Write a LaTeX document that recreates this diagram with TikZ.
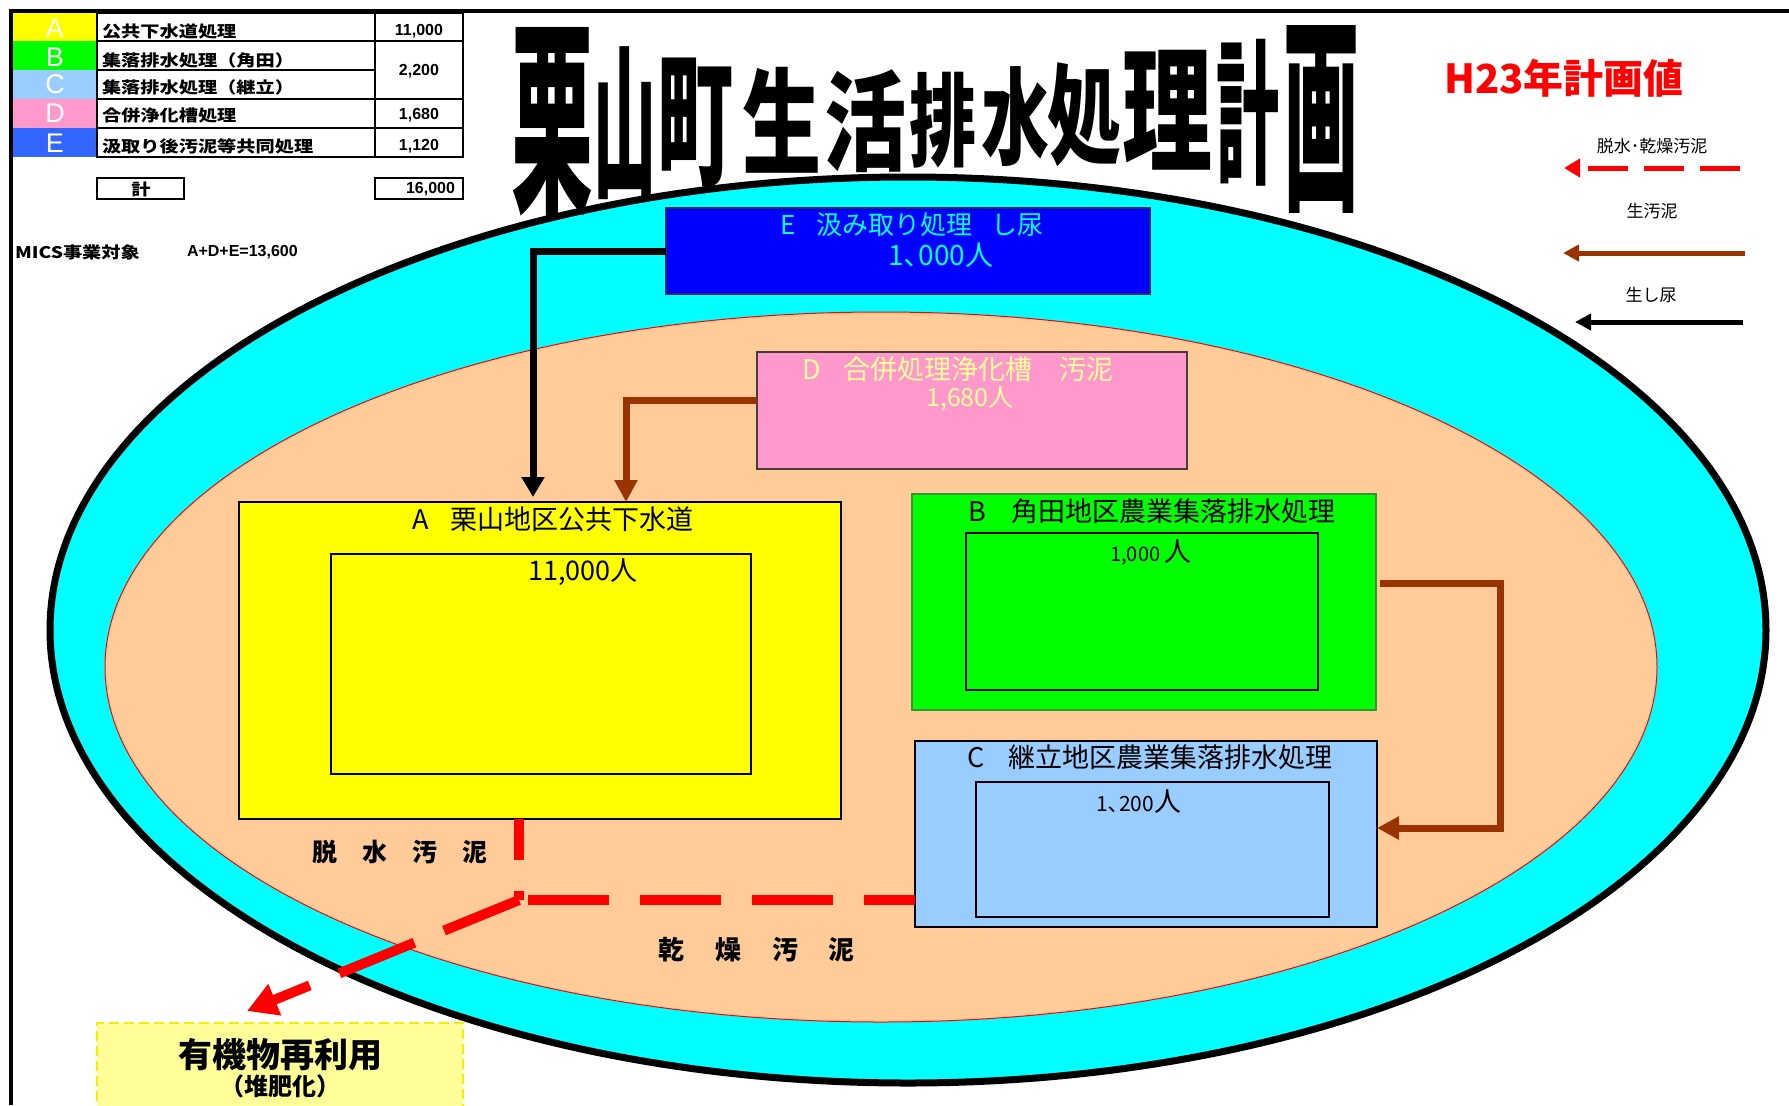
\documentclass[tikz,border=0pt]{standalone}
\usepackage{fontspec}
\usepackage{graphicx}
\usetikzlibrary{arrows.meta,calc}
\setmainfont{Noto Sans CJK JP}
\newfontfamily\jp{Noto Sans CJK JP}
\newfontfamily\tabjp{Noto Sans CJK JP}[FakeStretch=1.2]
\newfontfamily\lat{Liberation Sans}
\newcommand\setfs[1]{\fontsize{#1}{#1}\selectfont}
\definecolor{cy}{HTML}{00FFFF}
\definecolor{peach}{HTML}{FFCC99}
\definecolor{yelA}{HTML}{FFFF00}
\definecolor{grnB}{HTML}{00FF00}
\definecolor{bluC}{HTML}{99CCFF}
\definecolor{pnkD}{HTML}{FF99CC}
\definecolor{bluE}{HTML}{0000FF}
\definecolor{tabE}{HTML}{3366FF}
\definecolor{brn}{HTML}{993300}
\definecolor{lyel}{HTML}{FFFF99}
\definecolor{dyel}{HTML}{F0F000}
\definecolor{dtxt}{HTML}{FFFF99}
\tikzset{
  regionbox/.style={draw, anchor=north west, line width=0.6pt},
  brownarrow/.style={draw=brn, line width=3.5pt, -{Triangle[length=11pt,width=11pt]}},
  blackarrow/.style={draw=black, line width=3.5pt, -{Triangle[length=10pt,width=11pt]}},
  redflow/.style={draw=red, line width=5pt},
  tabtext/.style={font=\tabjp\bfseries\setfs{8}, anchor=west},
  tabnum/.style={font=\lat\bfseries\setfs{8}},
  tabletter/.style={font=\lat\setfs{13.5}, text=white},
  boxtext/.style={font=\jp\setfs{13.5}},
  legendtext/.style={font=\jp\setfs{8.5}},
  titlechar/.style={font=\jp\bfseries}
}
\begin{document}
\begin{tikzpicture}[x=0.5pt,y=-0.5pt, every node/.style={inner sep=0pt,outer sep=0pt}]
\useasboundingbox (0,0) rectangle (1789,1105);
\fill[white] (0,0) rectangle (1789,1105);

% ellipses
\draw[line width=3.5pt, fill=cy] (908,630) ellipse [x radius=429pt, y radius=226.5pt];
\draw[line width=0.5pt, draw=red, fill=peach] (881,667) ellipse [x radius=388pt, y radius=177.5pt];

% page border
\draw[line width=2pt] (11,1105) -- (11,11) -- (1789,11);

% table
\fill[yelA] (13,13) rectangle (97,41);
\fill[grnB] (13,41) rectangle (97,70);
\fill[bluC] (13,70) rectangle (97,99);
\fill[pnkD] (13,99) rectangle (97,128);
\fill[tabE] (13,128) rectangle (97,157);
\draw[line width=0.8pt] (97,13) rectangle (463,157);
\draw[line width=0.8pt] (97,41) -- (463,41) (97,70) -- (375,70) (97,99) -- (463,99) (97,128) -- (463,128) (375,13) -- (375,157);
\node[tabletter] (la) at (55,28) {A};
\node[tabletter] (lb) at (55,57) {B};
\node[tabletter] (lc) at (55,84) {C};
\node[tabletter] (ld) at (55,113) {D};
\node[tabletter] (le) at (55,143) {E};
\node[tabtext] (ta) at (102,31) {公共下水道処理};
\node[tabtext] (tb) at (102,60) {集落排水処理（角田）};
\node[tabtext] (tc) at (102,87) {集落排水処理（継立）};
\node[tabtext] (td) at (102,115) {合併浄化槽処理};
\node[tabtext] (te) at (102,146) {汲取り後汚泥等共同処理};
\node[tabnum] (na) at (419,31) {11,000};
\node[tabnum] (nb) at (419,71) {2,200};
\node[tabnum] (nd) at (419,115) {1,680};
\node[tabnum] (ne) at (419,146) {1,120};
\draw[line width=0.8pt] (97,178) rectangle (184,199);
\draw[line width=0.8pt] (375,178) rectangle (463,199);
\node[font=\tabjp\bfseries\setfs{8}] (kei) at (141,189) {計};
\node[tabnum, anchor=east] (tot) at (455,189) {16,000};
\node[tabtext] (mics) at (15,252) {MICS事業対象};
\node[tabnum, anchor=west] (adde) at (187,252) {A+D+E=13,600};

% title
\node[titlechar] (t1) at (552,122) {\resizebox*{41pt}{95pt}{栗}};
\node[titlechar] (t2) at (625,123) {\resizebox*{31.5pt}{76.5pt}{山}};
\node[titlechar] (t3) at (695,122) {\resizebox*{38pt}{64.5pt}{町}};
\node[titlechar] (t4) at (782,120) {\resizebox*{39.5pt}{53pt}{生}};
\node[titlechar] (t5) at (865,121) {\resizebox*{41pt}{51.5pt}{活}};
\node[titlechar] (t6) at (943,120) {\resizebox*{33.5pt}{48pt}{排}};
\node[titlechar] (t7) at (1015,117) {\resizebox*{34pt}{50pt}{水}};
\node[titlechar] (t8) at (1084,115) {\resizebox*{37pt}{52pt}{処}};
\node[titlechar] (t9) at (1167,110) {\resizebox*{45pt}{60pt}{理}};
\node[titlechar] (t10) at (1248,113) {\resizebox*{31.5pt}{73.5pt}{計}};
\node[titlechar] (t11) at (1321,119) {\resizebox*{38pt}{94pt}{画}};

% H23 and legend
\node[font=\jp\bfseries\setfs{20}, text=red] (h23) at (1564,78) {H23年計画値};
\node[legendtext] (lg1) at (1652,146) {脱水･乾燥汚泥};
\node[legendtext] (lg2) at (1652,211) {生汚泥};
\node[legendtext] (lg3) at (1651,295) {生し尿};
\coordinate (r1) at (1740,168); \coordinate (r2) at (1564,168);
\coordinate (b1) at (1745,253); \coordinate (b2) at (1563,253);
\coordinate (k1) at (1743,322); \coordinate (k2) at (1575,322);
\draw[red, line width=2.5pt, dash pattern=on 20pt off 8pt, -{Triangle[length=8pt,width=9pt]}] (r1) -- (r2);
\draw[brn, line width=2.5pt, -{Triangle[length=8pt,width=8pt]}] (b1) -- (b2);
\draw[black, line width=2.5pt, -{Triangle[length=8pt,width=8pt]}] (k1) -- (k2);

% boxes
\node[regionbox, draw={rgb,255:red,40;green,40;blue,90}, fill=bluE, minimum width=242pt, minimum height=43pt] (E) at (666,208) {};
\node[regionbox, draw={rgb,255:red,70;green,60;blue,60}, fill=pnkD, minimum width=215pt, minimum height=58.5pt] (D) at (757,352) {};
\node[regionbox, fill=yelA, minimum width=301pt, minimum height=158.5pt] (A) at (239,502) {};
\node[regionbox, fill=yelA, minimum width=210pt, minimum height=110pt] (Ai) at (331,554) {};
\node[regionbox, draw={rgb,255:red,50;green,150;blue,50}, fill=grnB, minimum width=232pt, minimum height=108pt] (B) at (912,494) {};
\node[regionbox, fill=grnB, minimum width=176pt, minimum height=78.5pt] (Bi) at (966,533) {};
\node[regionbox, fill=bluC, minimum width=231pt, minimum height=93pt] (C) at (915,741) {};
\node[regionbox, fill=bluC, minimum width=176.5pt, minimum height=67.5pt] (Ci) at (976,782) {};
\node[regionbox, draw=dyel, line width=1pt, dash pattern=on 5pt off 2.5pt, fill=lyel, minimum width=183pt, minimum height=50pt] (O) at (97,1023) {};

% box texts
\node[boxtext, font=\jp\setfs{13}, text=cy] (Et) at (912,225) {E\hspace{0.8em}汲み取り処理\hspace{0.7em}し尿};
\node[boxtext, font=\jp\setfs{14}, text=cy] (En) at (941,255) {1､000人};
\node[boxtext, text=dtxt] (Dt) at (958,369) {D\hspace{0.8em}合併処理浄化槽　汚泥};
\node[boxtext, font=\jp\setfs{12.5}, text=dtxt] (Dn) at (970,399) {1,680人};
\node[boxtext] (At) at (553,519) {A\hspace{0.8em}栗山地区公共下水道};
\node[boxtext] (An) at (583,572) {11,000人};
\node[boxtext] (Bt) at (1152,511) {B\hspace{0.9em}角田地区農業集落排水処理};
\node[boxtext] (Bn) at (1151,552) {{\setfs{10}1,000}\,人};
\node[boxtext] (Ct) at (1150,757) {C\hspace{0.9em}継立地区農業集落排水処理};
\node[boxtext] (Cn) at (1139,802) {{\setfs{10.5}1､200}人};

% labels
\node[font=\jp\bfseries\setfs{12.5}] (dl) at (400,852) {脱　水　汚　泥};
\node[font=\jp\bfseries\setfs{13}] (kl) at (757,950) {乾\hspace{1.18em}燥\hspace{1.18em}汚\hspace{1.18em}泥};
\node[font=\jp\bfseries\setfs{17}] (Ot) at (280,1055) {有機物再利用};
\node[font=\jp\bfseries\setfs{12}] (Os) at (280,1086) {（堆肥化）};

% connectors
\coordinate (bk) at (533,0);
\coordinate (bd) at (626,0);
\draw[blackarrow] (E.west) -| ([yshift=2.5pt]A.north -| bk);
\draw[brownarrow] ([yshift=5pt]D.west) -| (A.north -| bd);
\draw[brownarrow] ([xshift=2pt,yshift=9.5pt]B.east) -- ++(120,0) |- ([yshift=3pt]C.east);

\coordinate (j) at (519,900);
\coordinate (otip) at (247,1011);
\draw[redflow, dash pattern=on 40.5pt off 15.5pt, dash phase=15pt] (C.west |- j) -- (j);
\draw[redflow, dash pattern=on 20.5pt off 15.5pt on 60pt] (A.south -| j) -- (j);
\draw[redflow, dash pattern=on 40.5pt off 16pt on 40.5pt off 16pt on 100pt, -{Triangle[length=15pt,width=16pt]}] (j) -- (otip);
\end{tikzpicture}
\end{document}
